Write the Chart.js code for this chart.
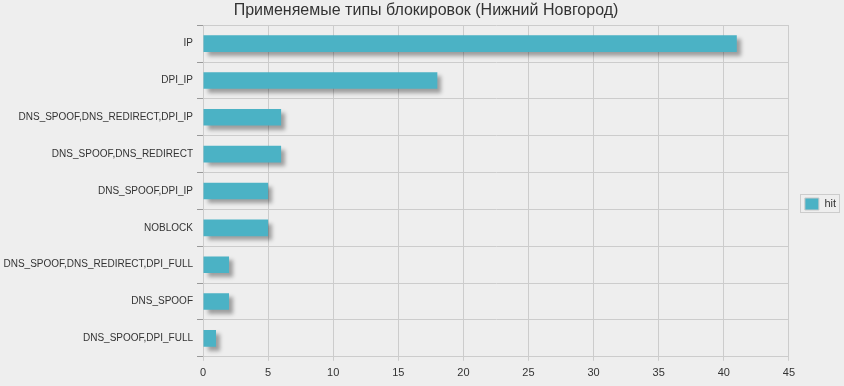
<!DOCTYPE html>
<html>
<head>
<meta charset="utf-8">
<title>Применяемые типы блокировок</title>
<script src="https://cdn.jsdelivr.net/npm/chart.js@4/dist/chart.umd.min.js"></script>
<style>
  html, body { margin: 0; padding: 0; background: #eeeeee; }
  #wrap { width: 844px; height: 386px; }
</style>
</head>
<body>
<div id="wrap"><canvas id="chart" width="844" height="386"></canvas></div>
<script>
	// ---- data
	var categories = [
		"IP",
		"DPI_IP",
		"DNS_SPOOF,DNS_REDIRECT,DPI_IP",
		"DNS_SPOOF,DNS_REDIRECT",
		"DNS_SPOOF,DPI_IP",
		"NOBLOCK",
		"DNS_SPOOF,DNS_REDIRECT,DPI_FULL",
		"DNS_SPOOF",
		"DNS_SPOOF,DPI_FULL"
	];
	var hitValues = [41, 18, 6, 6, 5, 5, 2, 2, 1];
	var xTicks = [0, 5, 10, 15, 20, 25, 30, 35, 40, 45];

	// ---- bar shadow (jqplot-like)
	var barShadow = {
		id: 'barShadow',
		beforeDatasetsDraw: function (chart) {
			var ctx = chart.ctx;
			ctx.save();
			ctx.shadowColor = 'rgba(0,0,0,0.34)';
			ctx.shadowOffsetX = 4;
			ctx.shadowOffsetY = 4;
			ctx.shadowBlur = 4;
		},
		afterDatasetsDraw: function (chart) {
			chart.ctx.restore();
		}
	};

	// ---- nudge title + legend a bit, frame the legend
	var legendFrame = {
		id: 'legendFrame',
		afterLayout: function (chart) {
			var lg = chart.legend;
			if (lg) {
				lg.left += 2; lg.right += 2;
				lg.top += 11; lg.bottom += 11;
			}
			var tb = chart.titleBlock;
			if (tb) { tb.left += 4; tb.right += 4; }
		},
		afterDraw: function (chart) {
			var lg = chart.legend;
			if (!lg || !lg.legendHitBoxes || !lg.legendHitBoxes.length) return;
			var hb = lg.legendHitBoxes[0];
			var ctx = chart.ctx;
			ctx.save();
			ctx.strokeStyle = '#cccccc';
			ctx.lineWidth = 1;
			ctx.strokeRect(Math.round(hb.left) - 4.5, Math.round(hb.top) - 3.5, Math.round(hb.width) + 8, Math.round(hb.height) + 6);
			ctx.restore();
		}
	};

	var ctx = document.getElementById('chart').getContext('2d');
	window.myChart = new Chart(ctx, {
		type: 'bar',
		data: {
			labels: categories,
			datasets: [{
				label: 'hit',
				data: hitValues,
				backgroundColor: '#4bb2c5',
				borderWidth: 0,
				categoryPercentage: 1.0,
				barPercentage: 0.45
			}]
		},
		plugins: [barShadow, legendFrame],
		options: {
			indexAxis: 'y',
			responsive: false,
			animation: false,
			layout: { padding: { left: 0, right: 0, top: 0, bottom: 0 } },
			plugins: {
				title: {
					display: true,
					text: 'Применяемые типы блокировок (Нижний Новгород)',
					color: '#333333',
					font: { family: 'Liberation Sans', size: 16, weight: 'normal' },
					padding: { top: 1, bottom: 5 }
				},
				legend: {
					position: 'right',
					labels: {
						boxWidth: 14,
						boxHeight: 12,
						padding: 14,
						color: '#333333',
						font: { family: 'Liberation Sans', size: 11 },
						generateLabels: function (chart) {
							var items = Chart.defaults.plugins.legend.labels.generateLabels(chart);
							items.forEach(function (it) {
								it.strokeStyle = '#c8c8c8';
								it.lineWidth = 1;
							});
							return items;
						}
					}
				},
				tooltip: { enabled: false }
			},
			scales: {
				x: {
					min: 0,
					max: 45,
					afterBuildTicks: function (scale) {
						scale.ticks = xTicks.map(function (v) { return { value: v }; });
					},
					grid: { color: '#cccccc', tickColor: '#cccccc', tickLength: 4 },
					border: { color: '#cccccc' },
					ticks: {
						color: '#333333',
						padding: 6,
						font: { family: 'Liberation Sans', size: 11 }
					}
				},
				y: {
					afterFit: function (scale) { scale.width = 203; },
					grid: { color: '#cccccc', tickColor: '#999999', tickLength: 6, offset: true },
					border: { color: '#cccccc' },
					ticks: {
						color: '#333333',
						padding: 4,
						font: { family: 'Liberation Sans', size: 10 }
					}
				}
			}
		}
	});
</script>
</body>
</html>
